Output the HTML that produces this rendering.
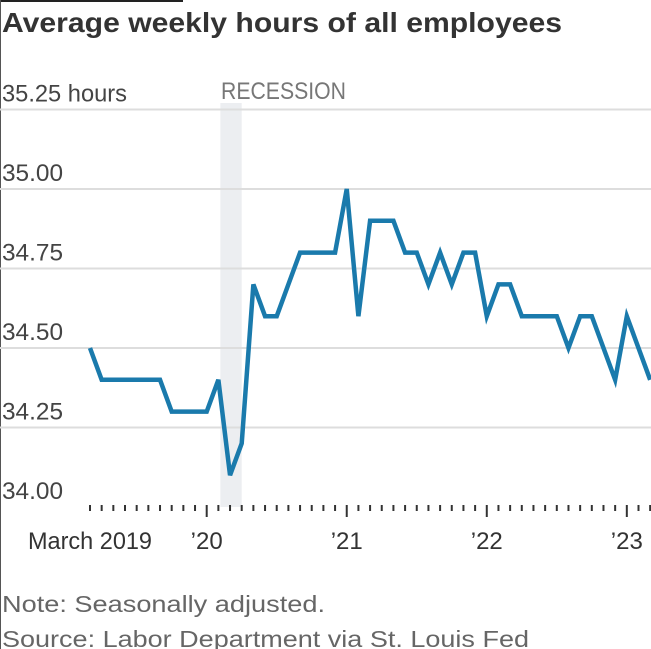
<!DOCTYPE html>
<html><head><meta charset="utf-8"><style>
html,body{margin:0;padding:0;background:#fff;}
svg{display:block;font-family:"Liberation Sans",sans-serif;}
</style></head><body>
<svg id="c" width="651" height="649" viewBox="0 0 651 649">
<rect x="0" y="0" width="651" height="649" fill="#fff"/>
<line x1="0" y1="1" x2="183" y2="1" stroke="#222" stroke-width="2"/>
<line x1="0.5" y1="0" x2="0.5" y2="649" stroke="#555" stroke-width="1"/>
<text x="2" y="32" font-size="28" font-weight="bold" fill="#333" textLength="560" lengthAdjust="spacingAndGlyphs">Average weekly hours of all employees</text>
<g id="grid"></g>
<g id="yl"></g>
<g id="xt"></g>
<polyline id="line" fill="none" stroke="#1a7aac" stroke-width="4.5" stroke-linejoin="miter"/>
<text x="2" y="612" font-size="23" fill="#666" textLength="323" lengthAdjust="spacingAndGlyphs">Note: Seasonally adjusted.</text>
<text x="2" y="647" font-size="23" fill="#666" textLength="527" lengthAdjust="spacingAndGlyphs">Source: Labor Department via St. Louis Fed</text>
</svg>
<script>
const values=[34.5,34.4,34.4,34.4,34.4,34.4,34.4,34.3,34.3,34.3,34.3,34.4,34.1,34.2,34.7,34.6,34.6,34.7,34.8,34.8,34.8,34.8,35.0,34.6,34.9,34.9,34.9,34.8,34.8,34.7,34.8,34.7,34.8,34.8,34.6,34.7,34.7,34.6,34.6,34.6,34.6,34.5,34.6,34.6,34.5,34.4,34.6,34.5,34.4];
const yTicks=[34.0,34.25,34.5,34.75,35.0,35.25];
const yTickLabels=["34.00","34.25","34.50","34.75","35.00","35.25 hours"];
const yearLabels=["March 2019","’20","’21","’22","’23"];
const yearIndex=[0,10,22,34,46];
const recession=[11,13];
const NS="http://www.w3.org/2000/svg";
const svg=document.getElementById('c');
const x=i=>90+i*11.67;
const y=v=>507-(v-34)*318;
function el(t,a,p){const e=document.createElementNS(NS,t);for(const k in a)e.setAttribute(k,a[k]);(p||svg).appendChild(e);return e;}
const grid=document.getElementById('grid');
const r=el('rect',{x:x(recession[0])+2,y:103,width:(x(recession[1])-x(recession[0]))-2,height:404,fill:'#eceef1'},grid);


const rt=el('text',{x:221,y:99,'font-size':24,fill:'#777',textLength:125,lengthAdjust:'spacingAndGlyphs'},grid);
rt.textContent='RECESSION';


yTicks.forEach((v,i)=>{
  if(v>34){const g=el('line',{x1:0,x2:651,y1:y(v),y2:y(v),stroke:'#ddd','stroke-width':2},grid);
  
  }
  const t=el('text',{x:2,y:y(v)-8,'font-size':24,fill:'#444'},document.getElementById('yl'));
  if(i===yTicks.length-1){t.setAttribute('textLength',125);t.setAttribute('lengthAdjust','spacingAndGlyphs');}
  else{t.setAttribute('textLength',61);t.setAttribute('lengthAdjust','spacingAndGlyphs');}
  t.textContent=yTickLabels[i];
  
  
});
const xt=document.getElementById('xt');
for(let i=0;i<values.length;i++){
  const major=yearIndex.includes(i)&&i>0;
  const l=el('line',{x1:x(i),x2:x(i),y1:505,y2:major?517:511,stroke:'#333','stroke-width':2},xt);
  
  
}
yearLabels.forEach((s,k)=>{
  const t=el('text',{x:x(yearIndex[k]),y:549,'font-size':24,fill:'#333','text-anchor':'middle'},xt);
  if(k===0){t.setAttribute('textLength',124);t.setAttribute('lengthAdjust','spacingAndGlyphs');}
  t.textContent=s;
  
  
});
document.getElementById('line').setAttribute('points',values.map((v,i)=>x(i)+','+y(v)).join(' '));
</script>
</body></html>
